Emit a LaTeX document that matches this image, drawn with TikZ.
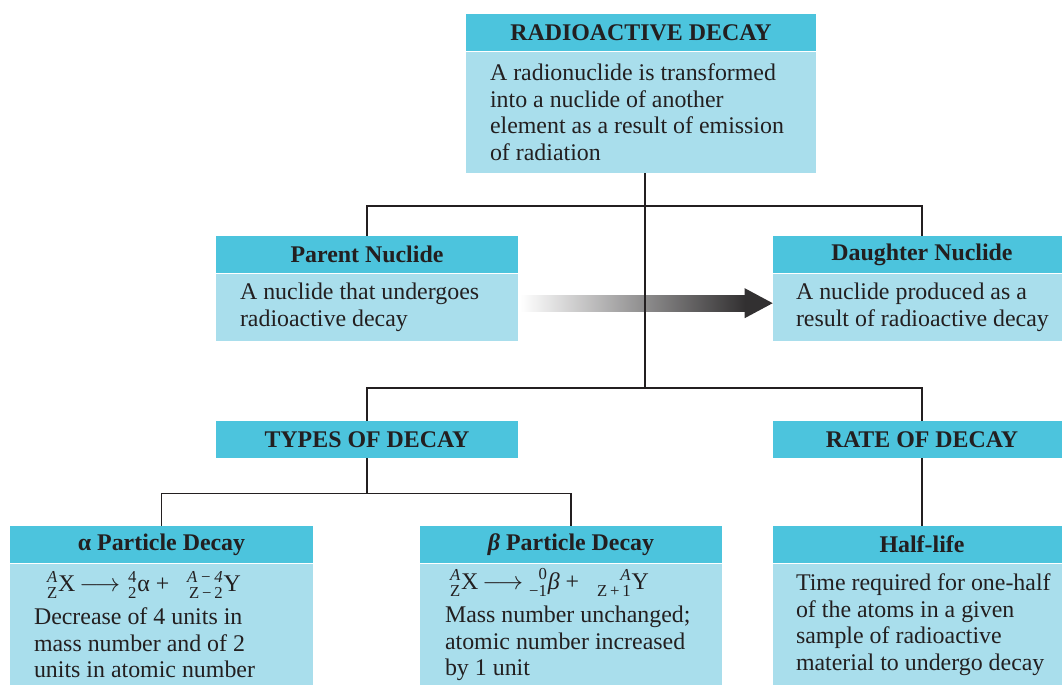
\documentclass[tikz,border=0pt]{standalone}
\usepackage{fontspec}
\setmainfont{Liberation Serif}
\usepackage{mathtools}
\usetikzlibrary{positioning,calc}
\definecolor{headcyan}{RGB}{76,196,221}
\definecolor{bodycyan}{RGB}{169,222,236}
\definecolor{inkdark}{RGB}{35,31,32}
\definecolor{arrowdark}{RGB}{50,48,49}
\newcommand{\nuc}[3]{\ensuremath{\prescript{\text{#1}}{\text{#2}}{\text{#3}}}}

\begin{document}
\begin{tikzpicture}[x=0.02cm,y=-0.02cm,
    txt/.style={font=\fontsize{13.6}{15.1}\selectfont,text=inkdark},
    headbox/.style={txt,fill=headcyan,font=\fontsize{13.6}{15.1}\selectfont\bfseries,
      minimum height=0.74cm,inner sep=0pt},
    bodybox/.style={fill=bodycyan,inner sep=0pt,below=0pt of #1},
    bodytext/.style={txt,align=left,inner sep=0pt},
    link/.style={draw=inkdark,line width=0.7pt}]
  \useasboundingbox (0,0) rectangle (1062,685);

  % top level
  \node[headbox,minimum width=7cm] (decayhd) at (641,32.5) {RADIOACTIVE DECAY};
  \node[bodybox=decayhd,minimum width=7cm,minimum height=2.42cm] (decaybd) {};
  \node[bodytext,right=0.48cm of decaybd.west] (decaytx)
    {A radionuclide is transformed\\into a nuclide of another\\element as a result of emission\\of radiation};

  % parent / daughter
  \node[headbox,minimum width=6.04cm] (parenthd) at (367,254.5) {Parent Nuclide};
  \node[bodybox=parenthd,minimum width=6.04cm,minimum height=1.34cm] (parentbd) {};
  \node[bodytext,right=0.48cm of parentbd.west] (parenttx)
    {A nuclide that undergoes\\radioactive decay};

  \node[headbox,minimum width=5.96cm] (daughterhd) at (922,254.5) {Daughter Nuclide};
  \node[bodybox=daughterhd,minimum width=5.96cm,minimum height=1.34cm] (daughterbd) {};
  \node[bodytext,right=0.46cm of daughterbd.west] (daughtertx)
    {A nuclide produced as a\\result of radioactive decay};

  % types / rate
  \node[headbox,minimum width=6.04cm] (typeshd) at (367,439.5) {TYPES OF DECAY};
  \node[headbox,minimum width=5.96cm] (ratehd) at (922,439.5) {RATE OF DECAY};

  % bottom row
  \node[headbox,minimum width=6.06cm] (alphahd) at (161.5,544.5) {α Particle Decay};
  \node[bodybox=alphahd,minimum width=6.06cm,minimum height=2.44cm] (alphabd) {};
  \node[bodytext,right=0.48cm of alphabd.west] (alphatx)
    {\hspace{0.26cm}\nuc{\itshape A}{Z}{X}\,$\longrightarrow$\,\,\nuc{4}{2}{α}\ +\ \ \ \nuc{\itshape A\,−\,4}{Z\,−\,2}{Y}\\[3.5pt]
     Decrease of 4 units in\\mass number and of 2\\units in atomic number};

  \node[headbox,minimum width=6.04cm] (betahd) at (571,544.5) {\textit{β} Particle Decay};
  \node[bodybox=betahd,minimum width=6.04cm,minimum height=2.44cm] (betabd) {};
  \node[bodytext,right=0.5cm of betabd.west] (betatx)
    {\hspace{0.1cm}\nuc{\itshape A}{Z}{X}\,$\longrightarrow$\ \nuc{0}{−1}{\itshape β}\ +\ \ \ \nuc{\itshape A}{Z\,+\,1}{Y}\\[3.5pt]
     Mass number unchanged;\\atomic number increased\\by 1 unit};

  \node[headbox,minimum width=5.96cm] (halfhd) at (922,544.5) {Half-life};
  \node[bodybox=halfhd,minimum width=5.96cm,minimum height=2.44cm] (halfbd) {};
  \node[bodytext,right=0.46cm of halfbd.west] (halftx)
    {Time required for one-half\\of the atoms in a given\\sample of radioactive\\material to undergo decay};

  % shaded arrow parent -> daughter
  \shade[left color=white,right color=arrowdark]
    ($(parentbd.east)+(2,-12)$) rectangle ($(daughterbd.west)+(-27,4)$);
  \fill[arrowdark] ($(daughterbd.west)+(-28,-19)$) -- ($(daughterbd.west)+(0,-4)$)
    -- ($(daughterbd.west)+(-28,11)$) -- cycle;

  % connectors
  \coordinate (trunkT) at ($(decaybd.south)+(4,0)$);
  \coordinate (trunkA) at ($(trunkT)+(0,33)$);
  \coordinate (trunkB) at ($(trunkT)+(0,215)$);
  \coordinate (typesjoin) at ($(typeshd.south)+(0,35)$);
  \draw[link] (trunkT) -- (trunkB);
  \draw[link] (parenthd.north) |- (trunkA) -| (daughterhd.north);
  \draw[link] (typeshd.north) |- (trunkB) -| (ratehd.north);
  \draw[link] (typeshd.south) -- (typesjoin);
  \draw[link] (alphahd.north) |- (typesjoin) -| (betahd.north);
  \draw[link] (ratehd.south) -- (halfhd.north);
\end{tikzpicture}
\end{document}
